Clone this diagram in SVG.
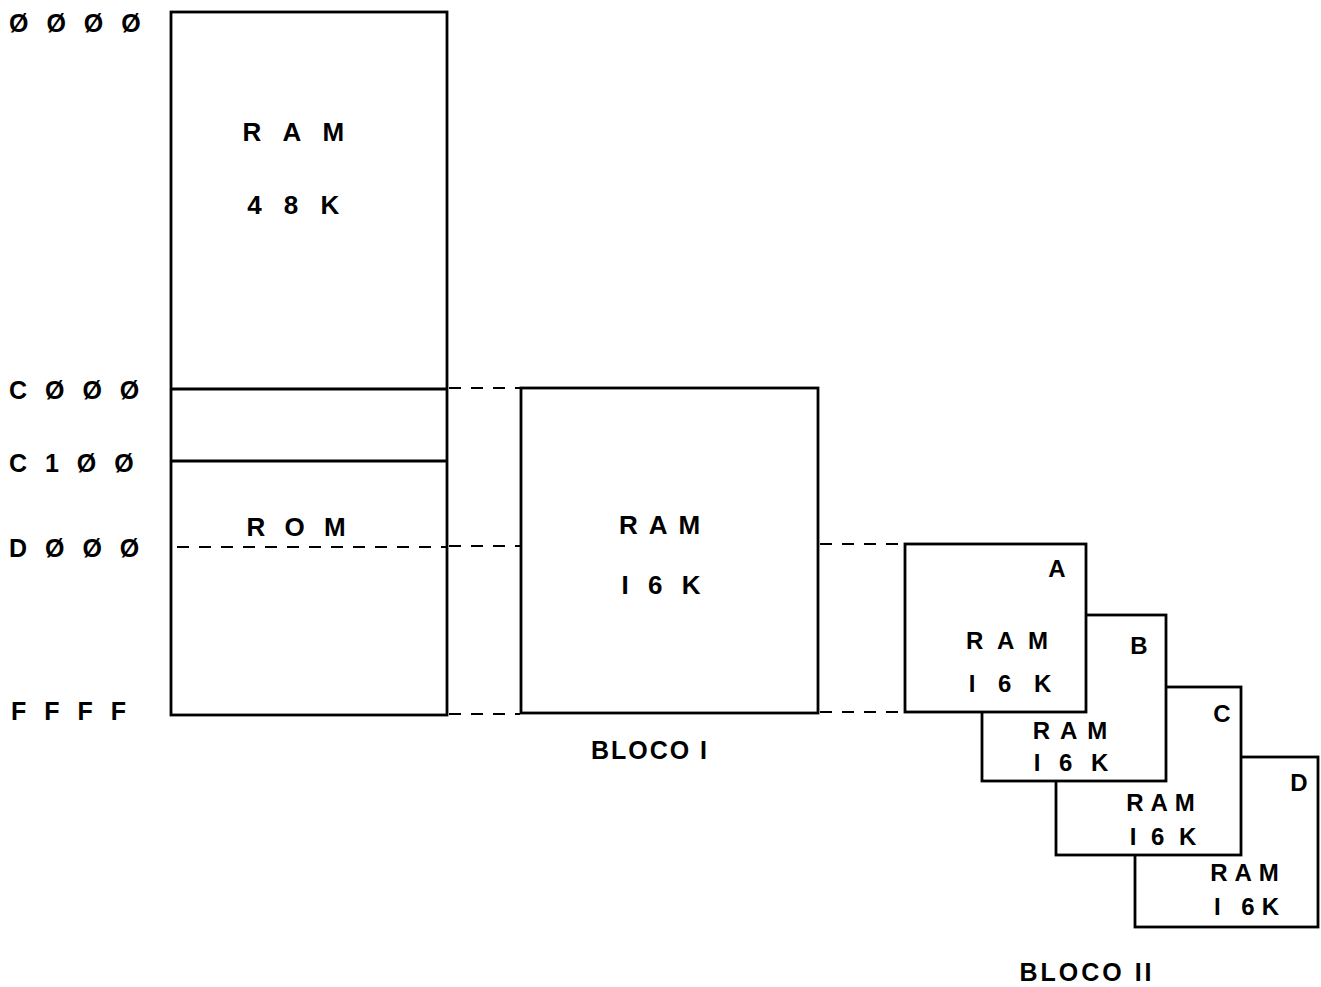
<svg xmlns="http://www.w3.org/2000/svg" width="1321" height="987" viewBox="0 0 1321 987">
<style>
.box{fill:#fff;stroke:#000;stroke-width:2.8}
.ln{stroke:#000;stroke-width:2.8;fill:none}
.dash{stroke:#000;stroke-width:2.2;stroke-dasharray:12 10;fill:none}
text{font-family:"Liberation Sans",Arial,sans-serif;font-weight:bold;fill:#000}
.addr{font-size:25px;letter-spacing:5.5px}
.lbl{font-size:26px;text-anchor:middle}
.sm{font-size:24px;text-anchor:middle}
</style>
<rect width="1321" height="987" fill="#fff"/>
<g id="addresses">
<text class="addr" x="9" y="32">Ø Ø Ø Ø</text>
<text class="addr" x="9" y="399">C Ø Ø Ø</text>
<text class="addr" x="9" y="472">C 1 Ø Ø</text>
<text class="addr" x="9" y="557">D Ø Ø Ø</text>
<text class="addr" x="11" y="720">F F F F</text>
</g>
<g id="main-map">
<rect class="box" x="171" y="12" width="276" height="703"/>
<line class="ln" x1="171" y1="389" x2="447" y2="389"/>
<line class="ln" x1="171" y1="461" x2="447" y2="461"/>
<text class="lbl" x="297" y="141" style="letter-spacing:7.5px">R A M</text>
<text class="lbl" x="297" y="214" style="letter-spacing:7.5px">4 8 K</text>
<text class="lbl" x="299" y="536" style="letter-spacing:6px">R O M</text>
</g>
<g id="connectors">
<line class="dash" x1="177" y1="547" x2="447" y2="547"/>
<line class="dash" x1="449" y1="388" x2="520" y2="388"/>
<line class="dash" x1="449" y1="546" x2="520" y2="546"/>
<line class="dash" x1="449" y1="714" x2="520" y2="714"/>
<line class="dash" x1="820" y1="544" x2="904" y2="544"/>
<line class="dash" x1="820" y1="712" x2="904" y2="712"/>
</g>
<g id="bloco1">
<rect class="box" x="521" y="388" width="297" height="325"/>
<text class="lbl" x="665" y="534" style="letter-spacing:11px">RAM</text>
<text class="lbl" x="664" y="594" style="letter-spacing:6px">I 6 K</text>
<text class="sm" x="650" y="759" style="font-size:25px;letter-spacing:2px">BLOCO I</text>
</g>
<g id="bloco2-D">
<rect class="box" x="1135" y="757" width="183" height="170"/>
<text class="sm" x="1299" y="791">D</text>
<text class="sm" x="1248" y="881" style="letter-spacing:7px">RAM</text>
<text class="sm" x="1250" y="915" style="letter-spacing:7px">I 6K</text>
</g>
<g id="bloco2-C">
<rect class="box" x="1056" y="687" width="185" height="168"/>
<text class="sm" x="1222" y="722">C</text>
<text class="sm" x="1164" y="811" style="letter-spacing:7px">RAM</text>
<text class="sm" x="1165" y="845" style="letter-spacing:4px">I 6 K</text>
</g>
<g id="bloco2-B">
<rect class="box" x="982" y="615" width="184" height="166"/>
<text class="sm" x="1139" y="654">B</text>
<text class="sm" x="1075" y="739" style="letter-spacing:10px">RAM</text>
<text class="sm" x="1074" y="771" style="letter-spacing:6px">I 6 K</text>
</g>
<g id="bloco2-A">
<rect class="box" x="905" y="544" width="181" height="168"/>
<text class="sm" x="1057" y="577">A</text>
<text class="sm" x="1009" y="649" style="letter-spacing:4px">R A M</text>
<text class="sm" x="1014" y="692" style="letter-spacing:8px">I 6 K</text>
</g>
<text class="sm" x="1087" y="981" style="font-size:25px;letter-spacing:3px">BLOCO II</text>
</svg>
